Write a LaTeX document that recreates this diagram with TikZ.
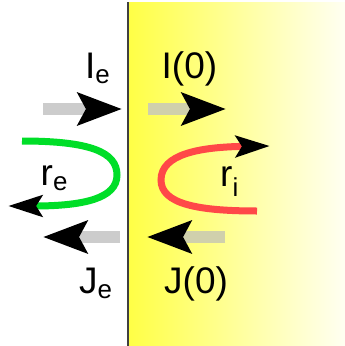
\documentclass[tikz,border=0pt]{standalone}
\usepackage{fontspec}
\setmainfont{Liberation Sans}
\usetikzlibrary{arrows.meta}
\definecolor{slabyellow}{RGB}{255,255,70}
\definecolor{slabwhite}{RGB}{255,255,242}
\definecolor{barout}{RGB}{204,204,204}
\definecolor{barin}{RGB}{208,208,172}
\definecolor{refgreen}{RGB}{0,222,40}
\definecolor{refred}{RGB}{255,72,72}
\tikzset{
  flux/.style={line width=12pt,-{Stealth[length=44pt,width=32pt,inset=8pt,color=black]}},
  bounce/.style={line width=7pt,-{Stealth[length=34pt,width=21pt,inset=6pt,color=black]}},
  lbl/.style={anchor=base west,inner sep=0pt,font=\fontsize{37}{40}\selectfont}
}

\begin{document}
\begin{tikzpicture}[x=1pt,y=-1pt]
   \useasboundingbox (0,0) rectangle (345,346);
   \shade[left color=slabyellow,right color=slabwhite] (129,2) rectangle (345,346);
   \draw[line width=2pt,black!75] (128,2) -- (128,346);

   \coordinate (ie-from) at (43,109);
   \coordinate (ie-to) at (122,109);
   \coordinate (i0-from) at (148,109);
   \coordinate (i0-to) at (226,109);
   \coordinate (je-from) at (120,237);
   \coordinate (je-to) at (43,237);
   \coordinate (j0-from) at (225,237);
   \coordinate (j0-to) at (147,237);
   \draw[flux,barout] (ie-from) -- (ie-to);
   \draw[flux,barin] (i0-from) -- (i0-to);
   \draw[flux,barout] (je-from) -- (je-to);
   \draw[flux,barin] (j0-from) -- (j0-to);

   \coordinate (re-from) at (22,141);
   \coordinate (re-turn) at (117,175);
   \coordinate (re-to) at (8,206);
   \draw[bounce,refgreen] (re-from) .. controls (90,141) and (117,152) .. (re-turn)
      .. controls (117,198) and (85,206) .. (re-to);
   \coordinate (ri-from) at (257,211);
   \coordinate (ri-turn) at (161,180);
   \coordinate (ri-to) at (270,146);
   \draw[bounce,refred] (ri-from) .. controls (198,211) and (161,204) .. (ri-turn)
      .. controls (161,154) and (200,147) .. (ri-to);

   \node[lbl] (ie) at (85,78) {I\textsubscript{e}};
   \node[lbl] (i0) at (161.5,78) {I(0)};
   \node[lbl] (je) at (79,293) {J\textsubscript{e}};
   \node[lbl] (j0) at (164,293) {J(0)};
   \node[lbl] (re) at (40.5,185) {r\textsubscript{e}};
   \node[lbl] (ri) at (220,186) {r\textsubscript{i}};
\end{tikzpicture}
\end{document}
